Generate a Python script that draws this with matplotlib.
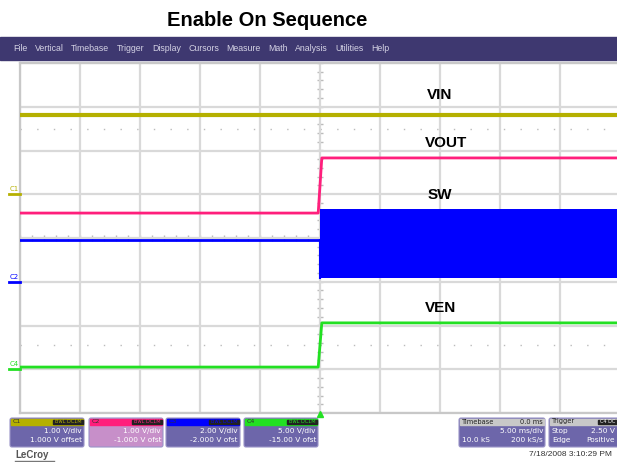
import matplotlib
matplotlib.use('Agg')
import matplotlib.pyplot as plt
from matplotlib.patches import Rectangle, FancyBboxPatch
import numpy as np

menu_items = ['File', 'Vertical', 'Timebase', 'Trigger', 'Display', 'Cursors',
              'Measure', 'Math', 'Analysis', 'Utilities', 'Help']

ms_per_div = 5.0
edge_t = [-0.15, 0.15]          # ms, start / end of enable edge

# levels in volts: before edge, after edge
vin_level = [1.81, 1.81]
vout_level = [1.57, 2.83]
sw_level = [1.90, 1.90]
sw_band = [0.18, 3.32]          # min / max of switching node after edge
ven_level = [0.25, 5.30]

vdiv = {'C1': 1.0, 'C2': 1.0, 'C3': 2.0, 'C4': 5.0}
voff = {'C1': 1.0, 'C2': -1.0, 'C3': -2.0, 'C4': -15.0}

C = {'C1': '#b5b000', 'C2': '#ff1f7c', 'C3': '#0000ff', 'C4': '#22e022',
     'menu': '#3e3870', 'box': '#6d66aa', 'grid': '#d9d9d9'}

W, H = 617, 462
fig = plt.figure(figsize=(W/100, H/100), dpi=100)
fig.patch.set_facecolor('white')

# plot area in pixels: x 20..620, y 63..413
ax = fig.add_axes([20/W, (H-413)/H, 600/W, 350/H])
ax.set_xlim(-5*ms_per_div, 5*ms_per_div)
ax.set_ylim(-4, 4)
ax.set_xticks(np.arange(-25, 26, 5))
ax.set_yticks(np.arange(-4, 5, 1))
ax.tick_params(length=0, labelbottom=False, labelleft=False)
ax.grid(True, color=C['grid'], linewidth=1.6, zorder=0)
for sp in ax.spines.values():
    sp.set_color('#c8c8c8')
    sp.set_linewidth(1.6)

# minor ticks on the centre lines
mt = np.arange(-25, 25.1, 1)
ax.plot(mt, np.zeros_like(mt), ls='none', marker='|', ms=4, color='#bbbbbb', zorder=1)
my = np.arange(-4, 4.01, 0.2)
ax.plot(np.zeros_like(my), my, ls='none', marker='_', ms=4, color='#bbbbbb', zorder=1)
# reference dotted rows
for yy in (2.5, -2.45):
    ax.axhline(yy, color='#bbbbbb', lw=1, ls=(0, (1, 11)), zorder=1)


def pos(v, ch):
    return (np.asarray(v) + voff[ch]) / vdiv[ch]


def step(levels, ch):
    t = [-25, edge_t[0], edge_t[1], 25]
    y = [levels[0], levels[0], levels[1], levels[1]]
    return t, pos(y, ch)


t, y = step(vin_level, 'C1')
ax.plot(t, y, color=C['C1'], lw=3, zorder=3)
t, y = step(vout_level, 'C2')
ax.plot(t, y, color=C['C2'], lw=2, zorder=4)
ax.plot([-25, 0], pos(sw_level, 'C3'), color=C['C3'], lw=2, zorder=4)
ax.fill_between([0, 25], pos(sw_band[0], 'C3'), pos(sw_band[1], 'C3'),
                color=C['C3'], lw=0, zorder=4)
ax.plot([0, 0], pos([sw_level[0], sw_band[0]], 'C3'), color=C['C3'], lw=1.5, zorder=4)
t, y = step(ven_level, 'C4')
ax.plot(t, y, color=C['C4'], lw=2, zorder=4)

# ---- overlay in pixel coords ----
ov = fig.add_axes([0, 0, 1, 1], facecolor='none')
ov.set_xlim(0, W)
ov.set_ylim(H, 0)
ov.axis('off')

ov.text(267, 21, 'Enable On Sequence', ha='center', va='center',
        fontsize=14.5, fontweight='bold', family='Liberation Sans')

ov.add_patch(Rectangle((0, 37), W, 23, color=C['menu'], zorder=1))
renderer = fig.canvas.get_renderer()
x0 = 13
for m in menu_items:
    tx = ov.text(x0, 48.5, m, ha='left', va='center', fontsize=6.3,
                 color='#d4d2e4', family='Liberation Sans')
    x0 += tx.get_window_extent(renderer).width + 7.5

for name, x, y in [('VIN', 440, 95), ('VOUT', 446, 143), ('SW', 440, 195), ('VEN', 441, 308)]:
    ov.text(x, y, name, ha='center', va='center', fontsize=11,
            fontweight='bold', family='Liberation Sans')

# channel ground markers at left edge
for ch, lab, col in [('C1', 'C1', C['C1']), ('C3', 'C2', C['C3']), ('C4', 'C4', C['C4'])]:
    yp = 238 - voff[ch] / vdiv[ch] * 43.75
    ov.plot([9, 20], [yp, yp], color=col, lw=2)
    ov.text(10, yp - 2, lab, fontsize=5, color=col, ha='left', va='bottom')

# trigger marker
ov.plot([320], [414], marker='^', ms=5, color=C['C4'], clip_on=False)

# channel info boxes
boxes = [
    (10, 'C1', C['C1'], C['box'], ['1.00 V/div', '1.000 V offset']),
    (89, 'C2', C['C2'], '#c78fc9', ['1.00 V/div', '-1.000 V ofst']),
    (166, 'C3', C['C3'], C['box'], ['2.00 V/div', '-2.000 V ofst']),
    (244, 'C4', C['C4'], C['box'], ['5.00 V/div', '-15.00 V ofst']),
]
for x, lab, hc, bc, lines in boxes:
    w = 74
    ov.add_patch(FancyBboxPatch((x, 418), w, 29, boxstyle='round,pad=0,rounding_size=2',
                                fc=bc, ec='#9a94c8', lw=0.8))
    ov.add_patch(Rectangle((x + 1, 418.5), w - 2, 6, color=hc))
    ov.text(x + 3, 421.5, lab, fontsize=4.5, color='#333333', va='center')
    ov.add_patch(Rectangle((x + w - 31, 419.5), 30, 4, color='#222222'))
    ov.text(x + w - 16, 421.5, 'BwL DC1M', fontsize=3.6, color=hc, ha='center', va='center')
    ov.text(x + w - 2, 431, lines[0], fontsize=5.3, color='white', ha='right', va='center')
    ov.text(x + w - 2, 440, lines[1], fontsize=5.3, color='white', ha='right', va='center')

# timebase and trigger boxes
ov.add_patch(FancyBboxPatch((459, 418), 86, 29, boxstyle='round,pad=0,rounding_size=2',
                            fc=C['box'], ec='#9a94c8', lw=0.8))
ov.add_patch(Rectangle((460, 418.5), 84, 6, color='#c8c8c8'))
ov.text(462, 421.5, 'Timebase', fontsize=4.8, color='#222222', va='center')
ov.text(543, 421.5, '0.0 ms', fontsize=4.8, color='#222222', va='center', ha='right')
ov.text(543, 431, '5.00 ms/div', fontsize=5.3, color='white', ha='right', va='center')
ov.text(462, 440, '10.0 kS', fontsize=5.3, color='white', ha='left', va='center')
ov.text(543, 440, '200 kS/s', fontsize=5.3, color='white', ha='right', va='center')

ov.add_patch(FancyBboxPatch((549, 418), 72, 29, boxstyle='round,pad=0,rounding_size=2',
                            fc=C['box'], ec='#9a94c8', lw=0.8))
ov.add_patch(Rectangle((550, 418.5), 70, 6, color='#c8c8c8'))
ov.text(552, 421.5, 'Trigger', fontsize=4.8, color='#222222', va='center')
ov.add_patch(Rectangle((598, 419.5), 22, 4, color='#222222'))
ov.text(600, 421.5, 'C4 DC', fontsize=3.6, color='white', va='center')
ov.text(552, 431, 'Stop', fontsize=5.3, color='white', va='center')
ov.text(615, 431, '2.50 V', fontsize=5.3, color='white', va='center', ha='right')
ov.text(552, 440, 'Edge', fontsize=5.3, color='white', va='center')
ov.text(615, 440, 'Positive', fontsize=5.3, color='white', va='center', ha='right')

ov.text(15, 455, 'LeCroy', fontsize=7, color='#555555', va='center', ha='left',
        fontweight='bold', family='Liberation Sans')
ov.plot([15, 54], [461, 461], color='#777777', lw=1)
ov.text(612, 455, '7/18/2008 3:10:29 PM', fontsize=6, color='#333333',
        va='center', ha='right', family='Liberation Sans')

fig.savefig('out.png', dpi=100, facecolor='white')
